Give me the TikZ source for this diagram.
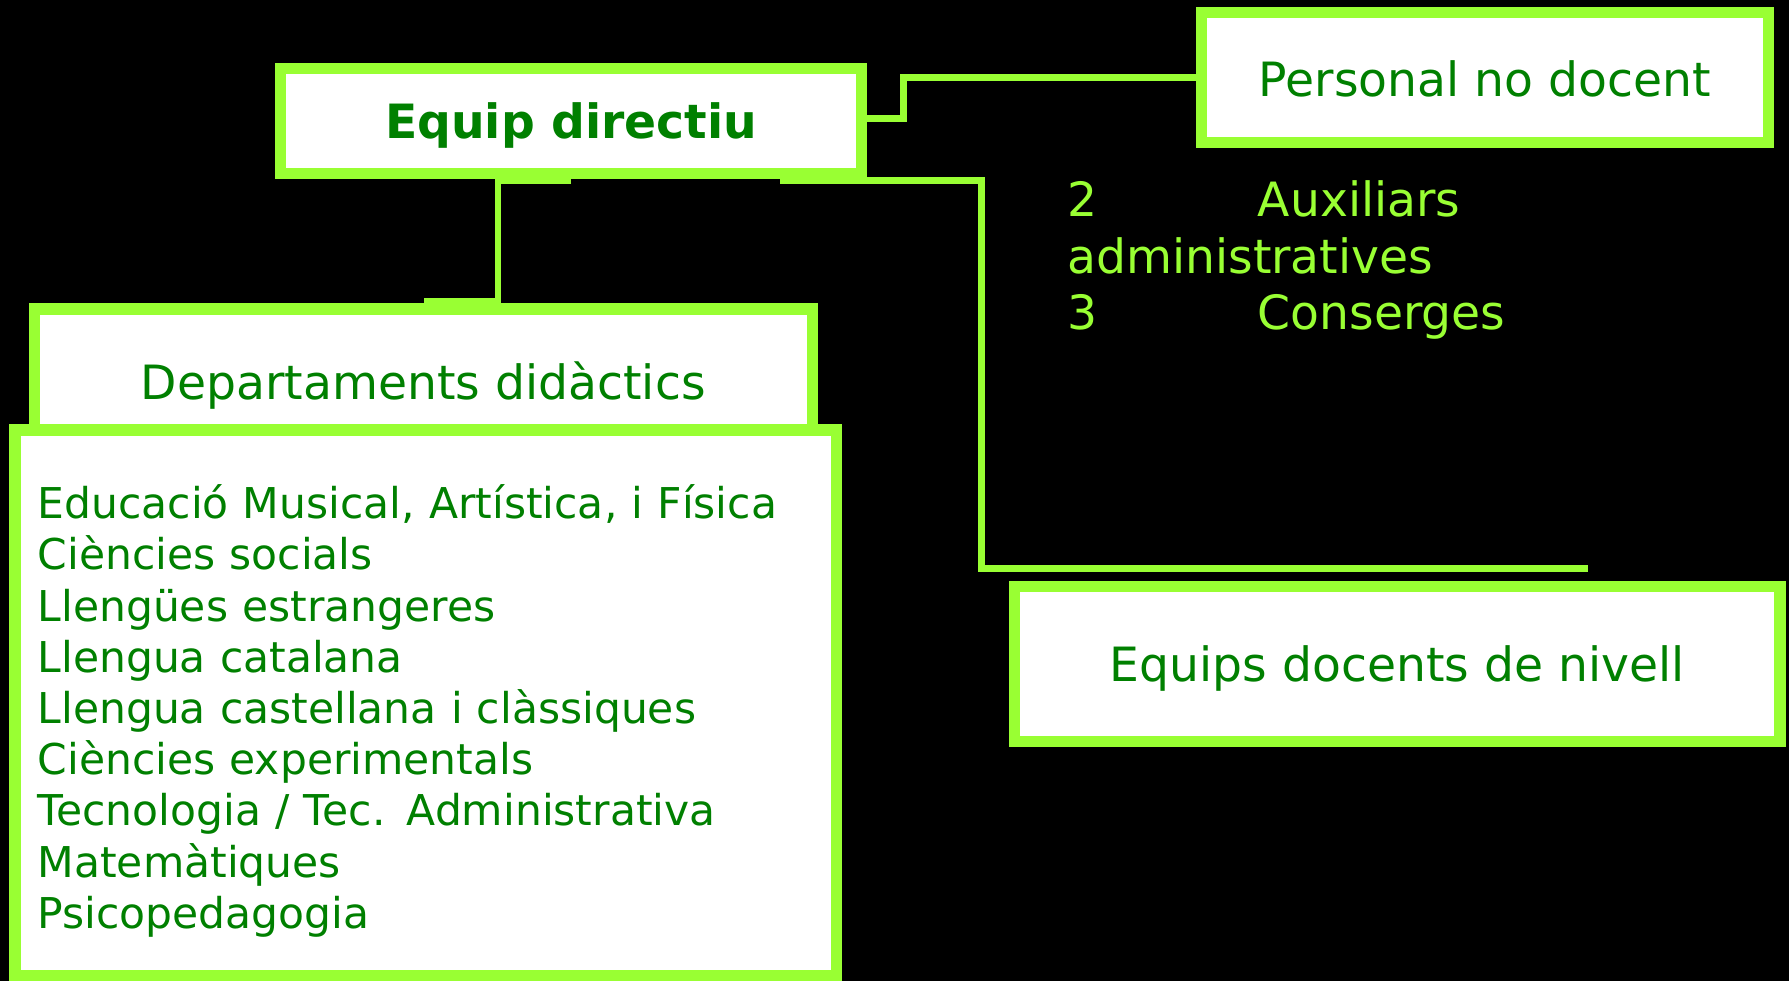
\documentclass[tikz,border=0pt]{standalone}
\usepackage{fontspec}
\setmainfont{DejaVu Sans}
\usetikzlibrary{calc}
\definecolor{lima}{HTML}{99FF33}
\definecolor{verd}{HTML}{008000}
\pgfdeclarelayer{fons}
\pgfsetlayers{fons,main}

\begin{document}
\begin{tikzpicture}[x=0.5pt,y=-0.5pt,
    caixa/.style={draw=lima,fill=white,line width=5pt,text=verd,inner sep=0pt,
      font=\fontsize{20.7}{25}\selectfont},
    linia/.style={text height=15.5pt,text depth=0pt},
    enllac/.style={draw=lima,line width=3pt},
    nota/.style={text=lima,inner sep=0pt,anchor=base west,
      font=\fontsize{20.7}{25}\selectfont}]
         \useasboundingbox (0,0) rectangle (1568,860);
         \node[caixa,linia,minimum width=254.5pt,minimum height=46pt] (equip) at (500.5,106) {\bfseries Equip directiu};
         \node[caixa,linia,text height=17pt,minimum width=248.5pt,minimum height=57pt] (personal) at (1301.5,68) {Personal no docent};
         \node[caixa,linia,minimum width=341pt,minimum height=64pt] (dept) at (371,335) {Departaments didàctics};
         \node[caixa,minimum width=360pt,minimum height=239pt,text width=340pt,align=left,
               font=\fontsize{18.6}{22.45}\selectfont] (llista) at (373,616)
               {\rule{0pt}{22pt}Educació Musical, Artística, i Física\\ Ciències socials\\ Llengües estrangeres\\
                Llengua catalana\\ Llengua castellana i clàssiques\\ Ciències experimentals\\
                Tecnologia / Tec. Administrativa\\ Matemàtiques\\ Psicopedagogia};
         \node[caixa,linia,minimum width=335.5pt,minimum height=68pt] (nivell) at (1224.5,582) {Equips docents de nivell};
         \node[nota] (aux) at (935,190) {\makebox[83.5pt][l]{2}Auxiliars};
         \node[nota] (adm) at (935,239.5) {administratives};
         \node[nota] (cons) at (935,289) {\makebox[83.5pt][l]{3}Conserges};
         \coordinate (fi) at (1392,498);
         \begin{pgfonlayer}{fons}
         \fill[black] (0,0) rectangle (1568,860);
         \draw[enllac] ($(equip.east)+(0,-2)$) -- ++(32,0) |- (personal.west);
         \draw[enllac] ($(equip.south)+(0,1)$) -- ++(-64,0) |- ($(dept.north)+(1,-2)$);
         \draw[enllac] ($(equip.south)+(183,1)$) -- ++(177,0) |- (fi);
         \end{pgfonlayer}
\end{tikzpicture}
\end{document}
